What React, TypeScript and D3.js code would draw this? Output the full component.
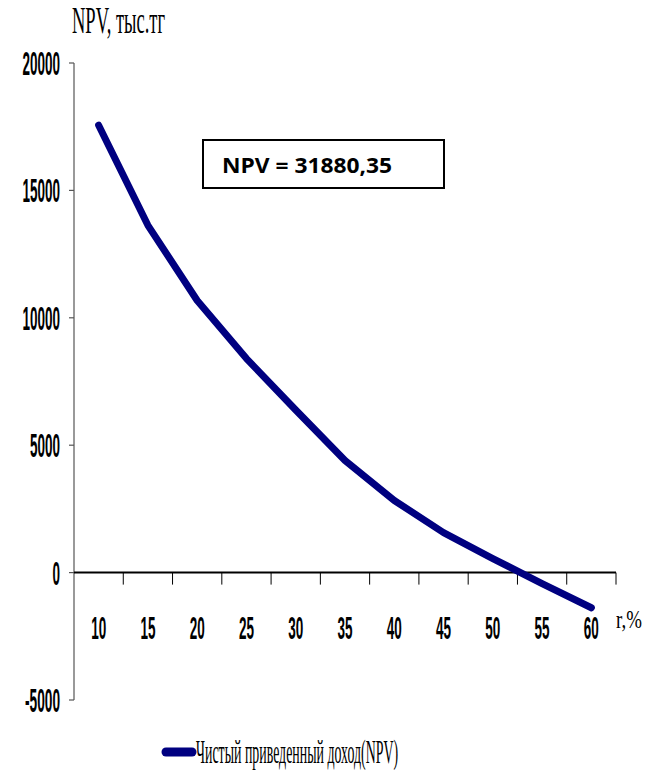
import React, { useLayoutEffect, useRef, useState } from "react";
import * as d3 from "d3";

// ставка дисконтирования, %
const rates = ["10", "15", "20", "25", "30", "35", "40", "45", "50", "55", "60"];
// NPV, тыс.тг
const npvValues = [17560, 13630, 10680, 8400, 6380, 4400, 2830, 1570, 550, -430, -1380];
const yTicks = [-5000, 0, 5000, 10000, 15000, 20000];

const totalLabel = "NPV = 31880,35";
const seriesName = "Чистый приведенный доход(NPV)";

const W = 654;
const H = 771;

const SERIF = "'Liberation Serif', 'Times New Roman', serif";
const SANS = "'Liberation Sans', Arial, sans-serif";

// текст, сжатый по горизонтали до заданной ширины (как узкий шрифт в исходнике)
function NarrowText({
  x,
  y,
  width,
  anchor = "start",
  children,
  ...rest
}: {
  x: number;
  y: number;
  width: number;
  anchor?: "start" | "middle" | "end";
  children: React.ReactNode;
  [k: string]: any;
}) {
  const ref = useRef<SVGTextElement>(null);
  const [sx, setSx] = useState(0.5);
  useLayoutEffect(() => {
    if (!ref.current) return;
    const natural = ref.current.getComputedTextLength();
    if (natural > 0) setSx(width / natural);
  }, [width, children]);
  return (
    <text
      ref={ref}
      transform={`translate(${x},${y}) scale(${sx},1)`}
      textAnchor={anchor}
      {...rest}
    >
      {children}
    </text>
  );
}

export default function App() {
  const x = d3.scaleBand<string>().domain(rates).range([74, 616]).padding(0);
  const y = d3.scaleLinear().domain([-5000, 20000]).range([700, 63]);

  const line = d3
    .line<number>()
    .x((_, i) => (x(rates[i]) as number) + x.bandwidth() / 2)
    .y((d) => y(d));

  const digitW = 7.5;
  const labelLen = (s: string) =>
    s.replace("-", "").length * digitW + (s.startsWith("-") ? 5 : 0);

  const boundaries = rates.map((r) => (x(r) as number) + x.bandwidth());

  return (
    <svg
      width={W}
      height={H}
      style={{ position: "absolute", left: 0, top: 0, background: "#fff" }}
    >
      {/* заголовок оси Y */}
      <NarrowText x={72} y={33} width={93} fontFamily={SERIF} fontSize={37}>
        NPV, тыс.тг
      </NarrowText>

      {/* ось Y */}
      <line x1={74} x2={74} y1={y(20000)} y2={y(-5000)} stroke="#555" strokeWidth={1.2} />
      {yTicks.map((t) => (
        <g key={t}>
          <line x1={69} x2={74} y1={y(t)} y2={y(t)} stroke="#555" strokeWidth={1.2} />
          <NarrowText
            x={60}
            y={y(t) + 12}
            width={labelLen(String(t))}
            anchor="end"
            fontFamily={SANS}
            fontWeight="bold"
            fontSize={33}
          >
            {String(t)}
          </NarrowText>
        </g>
      ))}

      {/* ось X на уровне нуля */}
      <line x1={74} x2={616} y1={y(0)} y2={y(0)} stroke="#000" strokeWidth={2} />
      {boundaries.map((b, i) => (
        <line key={i} x1={b} x2={b} y1={y(0)} y2={y(0) + 12} stroke="#000" strokeWidth={1} />
      ))}
      {rates.map((r) => (
        <NarrowText
          key={r}
          x={(x(r) as number) + x.bandwidth() / 2}
          y={639}
          width={labelLen(r)}
          anchor="middle"
          fontFamily={SANS}
          fontWeight="bold"
          fontSize={31}
        >
          {r}
        </NarrowText>
      ))}
      <NarrowText x={616} y={628} width={26} fontFamily={SERIF} fontSize={26}>
        r,%
      </NarrowText>

      {/* кривая NPV */}
      <path
        d={line(npvValues) ?? ""}
        fill="none"
        stroke="#000080"
        strokeWidth={7}
        strokeLinecap="round"
        strokeLinejoin="round"
      />

      {/* подпись со значением */}
      <rect x={203} y={140} width={241} height={48} fill="#fff" stroke="#000" strokeWidth={2} />
      <NarrowText
        x={222}
        y={173}
        width={170}
        fontFamily="'Open Sans', 'Noto Sans', sans-serif"
        fontWeight="bold"
        fontSize={21}
      >
        {totalLabel}
      </NarrowText>

      {/* легенда */}
      <line x1={166} x2={192} y1={752} y2={752} stroke="#000080" strokeWidth={9} strokeLinecap="round" />
      <NarrowText x={196} y={763} width={202} fontFamily={SERIF} fontSize={34}>
        {seriesName}
      </NarrowText>
    </svg>
  );
}
